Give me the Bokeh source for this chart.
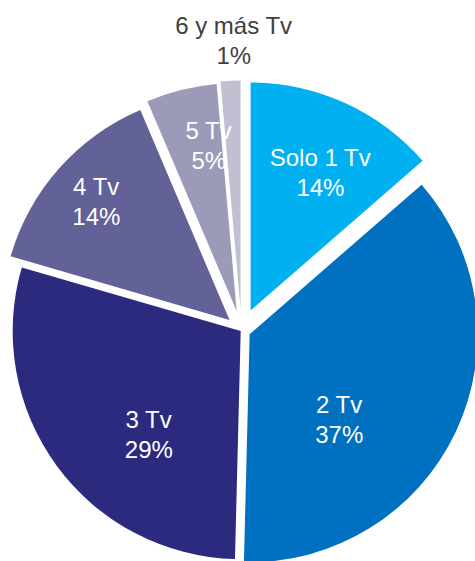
import math
from bokeh.plotting import figure
from bokeh.models import Range1d, ColumnDataSource
from bokeh.core.properties import value
from bokeh.embed import file_html
from bokeh.resources import INLINE

# ---- data ----
categories = ["Solo 1 Tv", "2 Tv", "3 Tv", "4 Tv", "5 Tv", "6 y más Tv"]
shares = [13.6, 36.8, 29.1, 14.1, 5.0, 1.4]
pct_labels = [f"{round(s)}%" for s in shares]

# ---- styling ----
colors = ["#00B0F0", "#0070C0", "#2C2A7F", "#626198", "#9B9BB9", "#C0C0D2"]
explode = [22, 9, 1, 16, 20, 22]           # px, along slice bisector
label_r = [177, 132, 139, 194, 188, 290]   # px from pie centre
label_da = [2, 17, -12, 0, 4, 1]           # deg offset from bisector
label_colors = ["white", "white", "white", "white", "white", "#404040"]

W, H = 475, 561
CX, CY = 241, H - 330   # pie centre in plot data units (y up)
R = 228
LINE_GAP = 15

total = sum(shares)
cum = [0.0]
for s in shares:
    cum.append(cum[-1] + s)

xs, ys, starts, ends = [], [], [], []
lx1, ly1, lx2, ly2 = [], [], [], []
for i, s in enumerate(shares):
    a0 = cum[i] / total * 360.0          # clockwise from 12 o'clock
    a1 = cum[i + 1] / total * 360.0
    mid = (a0 + a1) / 2.0
    m = math.radians(mid)
    ax = CX + explode[i] * math.sin(m)
    ay = CY + explode[i] * math.cos(m)
    xs.append(ax)
    ys.append(ay)
    starts.append(math.radians(90 - a0))
    ends.append(math.radians(90 - a1))
    la = math.radians(mid + label_da[i])
    lx = CX + label_r[i] * math.sin(la)
    ly = CY + label_r[i] * math.cos(la)
    lx1.append(lx); ly1.append(ly + LINE_GAP)
    lx2.append(lx); ly2.append(ly - LINE_GAP)

src = ColumnDataSource(dict(x=xs, y=ys, start=starts, end=ends, color=colors))

p = figure(width=W, height=H, output_backend="svg", toolbar_location=None,
           x_range=Range1d(0, W), y_range=Range1d(0, H),
           min_border=0, min_border_left=0, min_border_right=0,
           min_border_top=0, min_border_bottom=0)
p.axis.visible = False
p.grid.visible = False
p.outline_line_color = None
p.background_fill_color = "white"
p.border_fill_color = "white"

p.wedge(x="x", y="y", radius=R, start_angle="start", end_angle="end",
        direction="clock", fill_color="color", line_color=None, source=src)

tsrc = ColumnDataSource(dict(x1=lx1, y1=ly1, x2=lx2, y2=ly2,
                             name=categories, pct=pct_labels, c=label_colors))
p.text(x="x1", y="y1", text="name", source=tsrc, text_align="center",
       text_baseline="middle", text_font=value("Liberation Sans"),
       text_font_size="24px", text_color="c")
p.text(x="x2", y="y2", text="pct", source=tsrc, text_align="center",
       text_baseline="middle", text_font=value("Liberation Sans"),
       text_font_size="24px", text_color="c")

open("out.html", "w").write(file_html(p, INLINE))
